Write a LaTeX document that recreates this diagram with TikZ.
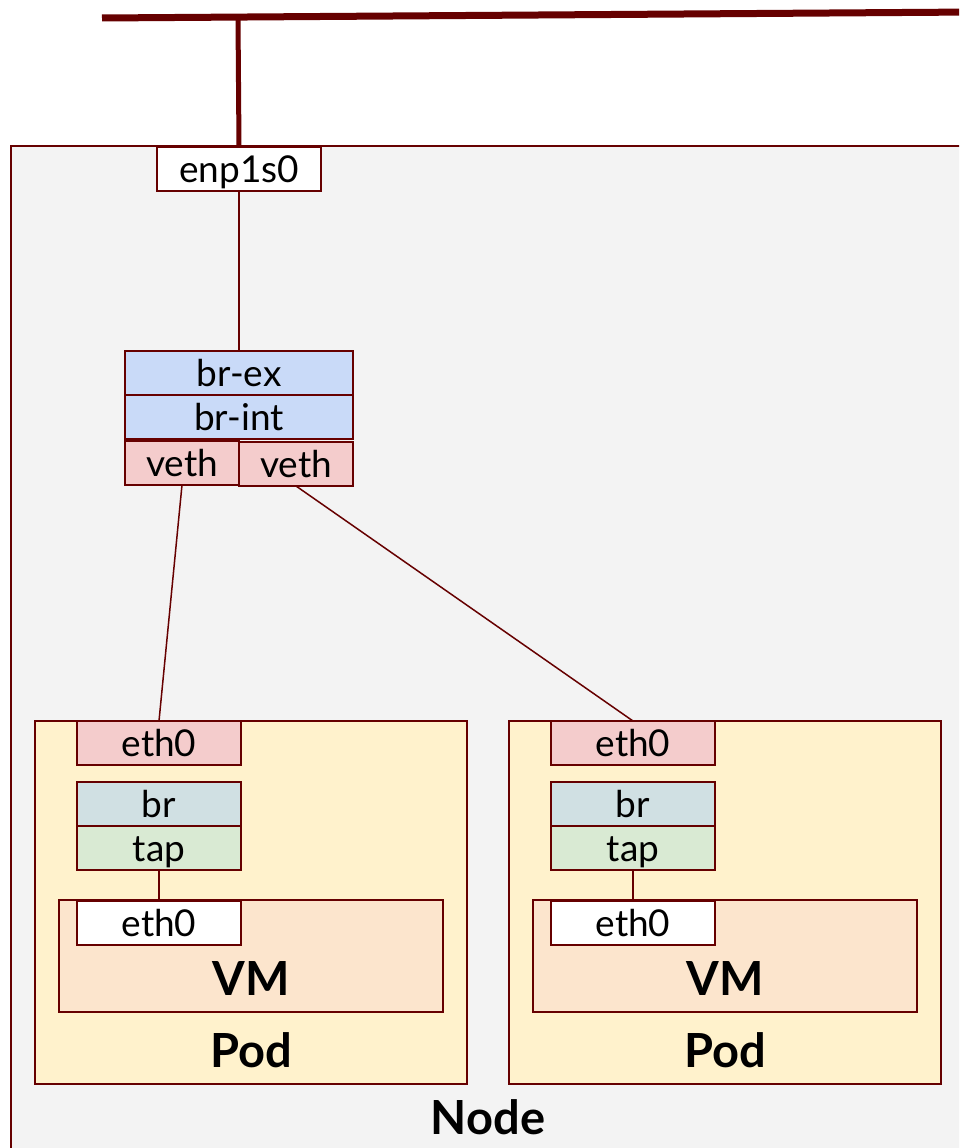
\documentclass[tikz,border=0pt]{standalone}
\usepackage{fontspec}
\setmainfont{Lato}
\usetikzlibrary{positioning}
\definecolor{darkRed}{HTML}{660000}
\definecolor{nodeGray}{HTML}{F3F3F3}
\definecolor{bridgeBlue}{HTML}{C9DAF8}
\definecolor{vethPink}{HTML}{F4CCCC}
\definecolor{brCyan}{HTML}{D0E0E3}
\definecolor{tapGreen}{HTML}{D9EAD3}
\definecolor{podYellow}{HTML}{FFF2CC}
\definecolor{vmOrange}{HTML}{FCE5CD}
\newcommand{\portWidth}{164pt}
\newcommand{\portHeight}{44pt}
\newcommand{\podShift}{474}
\newcommand{\labelFont}{\fontsize{37}{42}\selectfont}
\newcommand{\titleFont}{\fontsize{47}{52}\selectfont\bfseries}
\tikzset{
  box/.style={draw=darkRed, line width=1.5pt, inner sep=0pt, outer sep=0pt,
    text height=26pt, text depth=0pt, font=\labelFont},
  port/.style={box, minimum width=\portWidth, minimum height=\portHeight},
  wire/.style={draw=darkRed, line width=1.5pt},
  title/.style={anchor=base, font=\titleFont}
}

\begin{document}
\begin{tikzpicture}[x=1pt, y=-1pt]
      \clip (0,0) rectangle (959,1148);
      \fill[white] (0,0) rectangle (959,1148);

      \draw[box, fill=nodeGray] (11,146) rectangle (980,1170);

      % uplink
      \coordinate (busl) at (102,18);
      \coordinate (busr) at (975,12);
      \coordinate (drop) at (238,18);
      \draw[darkRed, line width=7pt] (busl) -- (busr);

      \node[port, fill=white] (enp) at (239,169) {enp1s0};
      \draw[darkRed, line width=5pt] (drop) -- (enp.north);

      \node[box, fill=bridgeBlue, minimum width=228pt, minimum height=\portHeight] (brex) at (239,373) {br-ex};
      \node[box, fill=bridgeBlue, minimum width=228pt, minimum height=\portHeight, below=0pt of brex] (brint) {br-int};
      \node[box, fill=vethPink, minimum width=114pt, minimum height=\portHeight, anchor=north east] (vethl) at ([yshift=-2pt]brint.south) {veth};
      \node[box, fill=vethPink, minimum width=114pt, minimum height=\portHeight, anchor=north west] (vethr) at ([yshift=-3pt]brint.south) {veth};

      \draw[wire] (enp.south) -- (brex.north);

      \foreach \p/\s in {l/0, r/\podShift} {
         \node[box, fill=podYellow, minimum width=432pt, minimum height=363pt] (pod\p) at (251+\s,902.5) {};
         \node[box, fill=vmOrange, minimum width=384pt, minimum height=112pt] (vm\p) at (251+\s,956) {};
         \node[port, fill=vethPink] (eth\p) at (159+\s,743) {eth0};
         \node[port, fill=brCyan] (br\p) at (159+\s,804) {br};
         \node[port, fill=tapGreen, below=0pt of br\p] (tap\p) {tap};
         \node[port, fill=white] (vmeth\p) at (159+\s,923) {eth0};
         \node[title] (vmlabel\p) at (251+\s,995) {VM};
         \node[title] (podlabel\p) at (251+\s,1067) {Pod};
         \draw[wire] (tap\p.south) -- (tap\p.south |- vm\p.north);
      }

      \draw[wire] (vethl.south) -- (ethl.north);
      \draw[wire] (vethr.south) -- (ethr.north);

      \node[title] (nodelabel) at (488,1134) {Node};

   \end{tikzpicture}
\end{document}
